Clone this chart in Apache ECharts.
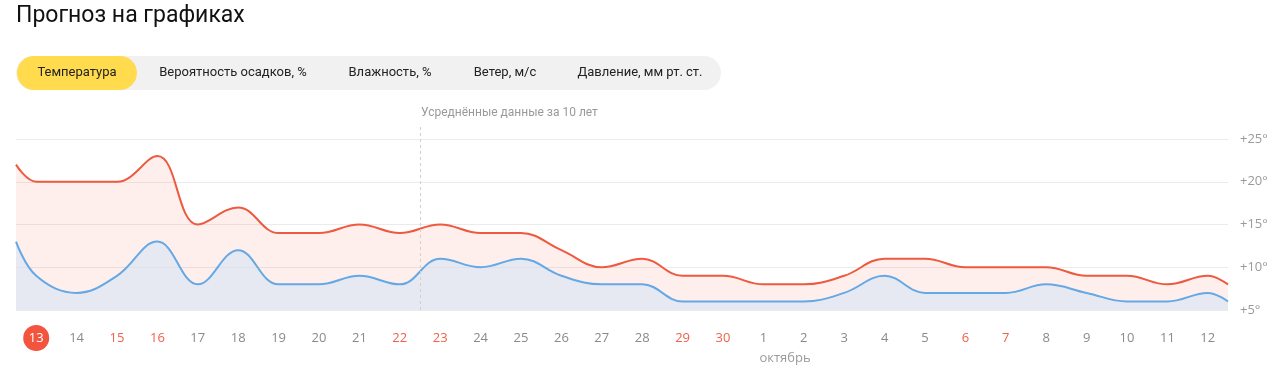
<!DOCTYPE html>
<html>
<head>
<meta charset="utf-8">
<script src="https://cdn.jsdelivr.net/npm/echarts@6/dist/echarts.min.js"></script>
<style>
  html, body { margin: 0; padding: 0; background: #fff; }
  #chart { width: 1280px; height: 371px; }
</style>
</head>
<body>
<div id="chart"></div>
<script>
// ---- data ----
const titleText = 'Прогноз на графиках';
const tabs = ['Температура', 'Вероятность осадков, %', 'Влажность, %', 'Ветер, м/с', 'Давление, мм рт. ст.'];
const days = ['13','14','15','16','17','18','19','20','21','22','23','24','25','26','27','28','29','30',
              '1','2','3','4','5','6','7','8','9','10','11','12'];
const weekendDays = ['15','16','22','23','29','30','6','7'];
const todayDay = '13';
const monthLabel = 'октябрь';
const monthStartDay = '1';
const avgNote = 'Усреднённые данные за 10 лет';
const avgFromDay = '23';
// day temperatures (max) and night temperatures (min), °C
const maxTemps = [20,20,20,23,15,17,14,14,15,14,15,14,14,12,10,11,9,9,8,8,9,11,11,10,10,10,9,9,8,9];
const minTemps = [9,7,9,13,8,12,8,8,9,8,11,10,11,9,8,8,6,6,6,6,7,9,7,7,7,8,7,6,6,7];
// values at the clipped left / right edges of the plot
const maxEdges = [22, 8];
const minEdges = [13, 6];
const yTicks = [5, 10, 15, 20, 25];

// ---- build ----
function withEdges(vals, edges) {
  const out = [[-0.5, edges[0]]];
  vals.forEach((v, i) => out.push([i, v]));
  out.push([vals.length - 0.5, edges[1]]);
  return out;
}

const chart = echarts.init(document.getElementById('chart'));
const FONT = 'Roboto';
const LABEL_FONT = '"Open Sans"';

const tabCenters = [77, 233, 390, 505, 640];
const graphic = [
  { type: 'text', left: 16, top: 5, style: { text: titleText, font: '400 23px ' + FONT, fill: '#111' } },
  { type: 'rect', shape: { x: 16, y: 56, width: 705, height: 34, r: 17 }, style: { fill: '#f1f1f1' } },
  { type: 'rect', shape: { x: 17, y: 56, width: 120, height: 34, r: 17 }, style: { fill: '#ffdb4d' } }
];
tabs.forEach((t, i) => {
  graphic.push({ type: 'text', x: tabCenters[i], y: 73,
    style: { text: t, font: '400 13px ' + FONT, fill: '#222', align: 'center', verticalAlign: 'middle' } });
});

const option = {
  animation: false,
  textStyle: { fontFamily: FONT },
  grid: { left: 16, right: 52, top: 139, bottom: 61, containLabel: false },
  xAxis: [
    {
      type: 'category', data: days, boundaryGap: true,
      axisLine: { show: false }, axisTick: { show: false }, splitLine: { show: false },
      axisLabel: {
        interval: 0, margin: 15,
        formatter: function (v) {
          if (v === todayDay) return '{t|' + v + '}';
          if (weekendDays.indexOf(v) >= 0) return '{w|' + v + '}';
          return '{n|' + v + '}';
        },
        rich: {
          n: { color: '#8a8a8a', fontSize: 13, fontFamily: LABEL_FONT, lineHeight: 26, height: 26 },
          w: { color: '#f0604a', fontSize: 13, fontFamily: LABEL_FONT, lineHeight: 26, height: 26 },
          t: { color: '#fff', fontSize: 13, fontFamily: LABEL_FONT, lineHeight: 26, height: 26, width: 26,
               align: 'center', backgroundColor: '#f2543d', borderRadius: 13 }
        }
      }
    },
    { type: 'value', min: -0.5, max: days.length - 0.5, show: false }
  ],
  yAxis: {
    type: 'value', position: 'right', min: yTicks[0], max: yTicks[yTicks.length - 1], interval: 5,
    axisLine: { show: false }, axisTick: { show: false },
    axisLabel: { formatter: '+{value}°', color: '#9a9a9a', fontSize: 13, fontFamily: LABEL_FONT, margin: 12 },
    splitLine: { lineStyle: { color: '#ebebeb', width: 1 } }
  },
  series: [
    {
      name: 'max', type: 'line', xAxisIndex: 1, data: withEdges(maxTemps, maxEdges),
      smooth: 0.4, symbol: 'none', z: 2,
      lineStyle: { color: '#ee5a40', width: 2 },
      areaStyle: { color: 'rgba(249,115,95,0.17)', origin: 'start' }
    },
    {
      name: 'min', type: 'line', xAxisIndex: 1, data: withEdges(minTemps, minEdges),
      smooth: 0.4, symbol: 'none', z: 3,
      lineStyle: { color: '#64a8e6', width: 2 },
      areaStyle: { color: 'rgba(216,230,246,0.86)', origin: 'start' }
    }
  ],
  graphic: graphic
};
chart.setOption(option);

// overlay elements positioned through the chart's scales
const avgX = chart.convertToPixel({ xAxisIndex: 1 }, days.indexOf(avgFromDay) - 0.5);
const yBottom = chart.convertToPixel({ yAxisIndex: 0 }, yTicks[0]);
const yTop = chart.convertToPixel({ yAxisIndex: 0 }, yTicks[yTicks.length - 1]);
const monthX = chart.convertToPixel({ xAxisIndex: 0 }, monthStartDay);
graphic.push(
  { type: 'line', shape: { x1: Math.round(avgX) + 0.5, y1: yTop - 12, x2: Math.round(avgX) + 0.5, y2: yBottom },
    style: { stroke: '#d0d0d0', lineWidth: 1, lineDash: [3, 3] }, z: 10 },
  { type: 'text', x: avgX + 1, y: yTop - 26,
    style: { text: avgNote, font: '400 12px ' + FONT, fill: '#999', align: 'left', verticalAlign: 'middle' } },
  { type: 'text', x: monthX - 4, y: yBottom + 48,
    style: { text: monthLabel, font: '400 13px ' + LABEL_FONT, fill: '#9a9a9a', align: 'left', verticalAlign: 'middle' } }
);
chart.setOption({ graphic: graphic });
</script>
</body>
</html>
